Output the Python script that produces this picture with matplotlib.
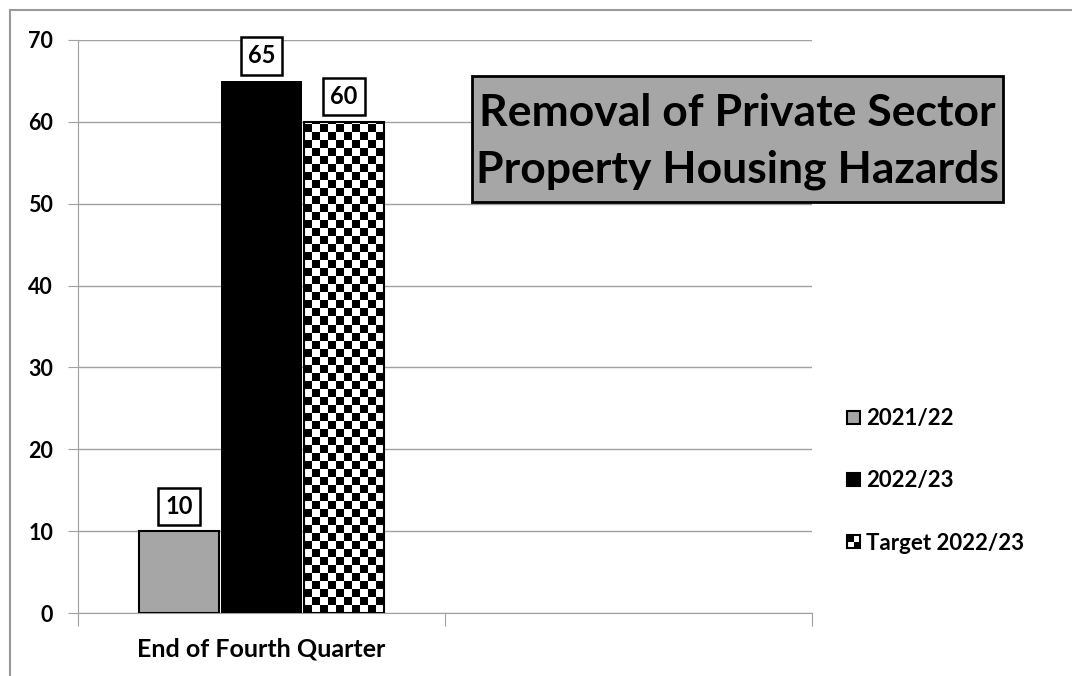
import numpy as np
import matplotlib
matplotlib.use("Agg")
import matplotlib.pyplot as plt
from matplotlib.patches import Rectangle
from matplotlib.lines import Line2D
from matplotlib.legend_handler import HandlerBase

# data
categories = ["End of Fourth Quarter", ""]
series_names = ["2021/22", "2022/23", "Target 2022/23"]
values_2021 = [10]
values_2022 = [65]
values_target = [60]

plt.rcParams["font.family"] = ["Lato", "DejaVu Sans"]
plt.rcParams["font.weight"] = "bold"

W, H = 1072, 676
fig = plt.figure(figsize=(W / 100, H / 100), dpi=100)
ax = fig.add_axes([78 / W, 1 - 613 / H, (812 - 78) / W, (613 - 40) / H])

grey = "#a6a6a6"
gridc = "#a0a0a0"
bw = 0.22
offs = [-0.225, 0.0, 0.225]
x = np.arange(len(values_2021))

b1 = ax.bar(x + offs[0], values_2021, bw, color=grey, edgecolor="black", linewidth=1.5, zorder=3)
b2 = ax.bar(x + offs[1], values_2022, bw, color="black", edgecolor="black", linewidth=0, zorder=3)
b3 = ax.bar(x + offs[2], values_target, bw, color="white", edgecolor="black", linewidth=1.5, zorder=4)

ax.set_xlim(-0.5, 1.5)
ax.set_ylim(0, 70)

# checkerboard fill for the target bar, clipped to the bar itself
fig.canvas.draw()
for rect in b3:
    x0, y0 = rect.get_x(), rect.get_y()
    w, h = rect.get_width(), rect.get_height()
    p0 = ax.transData.transform((x0, y0))
    p1 = ax.transData.transform((x0 + w, y0 + h))
    cell = 8.0
    nx = int(np.ceil((p1[0] - p0[0]) / cell))
    ny = int(np.ceil((p1[1] - p0[1]) / cell))
    board = (np.add.outer(np.arange(ny), np.arange(nx)) % 2).astype(float)
    ext_w = nx * cell / (p1[0] - p0[0]) * w
    ext_h = ny * cell / (p1[1] - p0[1]) * h
    im = ax.imshow(board, cmap="gray", interpolation="nearest", origin="lower",
                   extent=(x0, x0 + ext_w, y0, y0 + ext_h), aspect="auto", zorder=3.5)
    im.set_clip_path(rect)
    rect.set_facecolor("none")
ax.set_xlim(-0.5, 1.5)
ax.set_ylim(0, 70)

# value labels in boxes
for bars, vals in [(b1, values_2021), (b2, values_2022), (b3, values_target)]:
    for rect, v in zip(bars, vals):
        ax.annotate(str(v), (rect.get_x() + rect.get_width() / 2, v),
                    xytext=(0, 18), textcoords="offset points", ha="center", va="center",
                    fontsize=17, fontweight="bold", zorder=6,
                    bbox=dict(boxstyle="square,pad=0.3", fc="white", ec="black", lw=1.8))

# axes styling
ax.set_yticks(range(0, 71, 10))
ax.yaxis.grid(True, color=gridc, linewidth=1)
ax.set_axisbelow(True)
for s in ["top", "right"]:
    ax.spines[s].set_visible(False)
for s in ["left", "bottom"]:
    ax.spines[s].set_color(gridc)
ax.tick_params(axis="y", length=7, color=gridc, labelsize=15.5, pad=11)
ax.set_xticks([-0.5, 0.5, 1.5])
ax.set_xticklabels([])
ax.set_xticks([0, 1], minor=True)
ax.set_xticklabels(categories, minor=True)
ax.tick_params(axis="x", which="major", length=9, color=gridc)
ax.tick_params(axis="x", which="minor", length=0, labelsize=18, pad=18)
for lab in ax.get_yticklabels() + ax.get_xticklabels(minor=True):
    lab.set_fontweight("bold")

# title box
fig.patches.append(Rectangle((472 / W, 1 - 202 / H), (1003 - 472) / W, (202 - 76) / H,
                             transform=fig.transFigure, fc=grey, ec="black", lw=2, zorder=5))
fig.text(737 / W, 1 - 141 / H, "Removal of Private Sector\nProperty Housing Hazards",
         ha="center", va="center", fontsize=32, fontweight="bold", linespacing=1.5, zorder=6)

# outer border
fig.add_artist(Line2D([10 / W, 10 / W], [0, 1 - 10 / H], color="#999999", lw=1.5))
fig.add_artist(Line2D([10 / W, 1], [1 - 10 / H, 1 - 10 / H], color="#999999", lw=1.5))


class CheckerHandler(HandlerBase):
    def create_artists(self, legend, orig_handle, xdescent, ydescent, width, height, fontsize, trans):
        s = height
        x0 = width - s - xdescent
        y0 = -ydescent
        arts = [Rectangle((x0, y0), s, s, fc="white", ec="black", lw=1.5, transform=trans)]
        arts.append(Rectangle((x0, y0 + s / 2), s / 2, s / 2, fc="black", ec="none", transform=trans))
        arts.append(Rectangle((x0 + s / 2, y0), s / 2, s / 2, fc="black", ec="none", transform=trans))
        return arts


class SquareHandler(HandlerBase):
    def create_artists(self, legend, orig_handle, xdescent, ydescent, width, height, fontsize, trans):
        s = height
        x0 = width - s - xdescent
        return [Rectangle((x0, -ydescent), s, s, fc=orig_handle.get_facecolor(),
                          ec="black", lw=1.5, transform=trans)]


h1 = Rectangle((0, 0), 1, 1, fc=grey)
h2 = Rectangle((0, 0), 1, 1, fc="black")
h3 = Rectangle((0, 0), 1, 1, fc="white")
leg = fig.legend([h1, h2, h3], series_names, loc="center left",
                 bbox_to_anchor=(828 / W, 1 - 481 / H), frameon=False,
                 prop=dict(size=16, weight="bold"), labelspacing=1.85,
                 handlelength=0.55, handleheight=0.55, handletextpad=0.25,
                 handler_map={h1: SquareHandler(), h2: SquareHandler(), h3: CheckerHandler()})

fig.savefig("out.png", dpi=100, facecolor="white")
